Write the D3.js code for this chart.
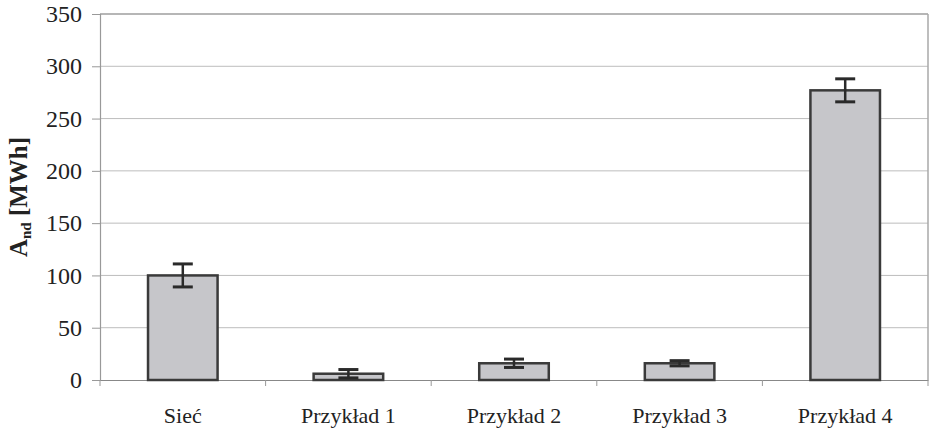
<!DOCTYPE html>
<html><head><meta charset="utf-8">
<script src="https://cdn.jsdelivr.net/npm/d3@7"></script>
<style>
html,body{margin:0;padding:0;background:#fff;}
svg{display:block;}
text{font-family:"Liberation Serif","Times New Roman",serif;fill:#222;}
</style></head>
<body>
<svg id="chart" width="934" height="432"></svg>
<script>
const categories = ["Sieć", "Przykład 1", "Przykład 2", "Przykład 3", "Przykład 4"];
const values = [100, 6, 16, 16, 277];
const errors = [11, 4, 4, 2.5, 11];
const yTicks = [0, 50, 100, 150, 200, 250, 300, 350];

const W = 934, H = 432;
const m = {left: 100, right: 6, top: 14, bottom: 52};
const svg = d3.select("#chart");
const x = d3.scaleBand().domain(categories).range([m.left, W - m.right]).padding(0);
const y = d3.scaleLinear().domain([0, 350]).range([H - m.bottom, m.top]);

// gridlines
svg.append("g").selectAll("line").data(yTicks.filter(t => t > 0)).join("line")
  .attr("x1", m.left).attr("x2", W - m.right)
  .attr("y1", d => y(d)).attr("y2", d => y(d))
  .attr("stroke", "#bdbdbd").attr("stroke-width", 1);

// plot border top/right
svg.append("line").attr("x1", m.left).attr("x2", W - m.right).attr("y1", y(350)).attr("y2", y(350))
  .attr("stroke", "#a8a8a8").attr("stroke-width", 1.5);
svg.append("line").attr("x1", W - m.right).attr("x2", W - m.right).attr("y1", y(350)).attr("y2", y(0))
  .attr("stroke", "#a8a8a8").attr("stroke-width", 1.5);

// y axis
const yAxis = svg.append("g").attr("transform", `translate(${m.left},0)`)
  .call(d3.axisLeft(y).tickValues(yTicks).tickSize(8).tickPadding(10));
yAxis.select(".domain").attr("stroke", "#999").attr("stroke-width", 1.2);
yAxis.selectAll(".tick line").attr("stroke", "#999");
yAxis.selectAll(".tick text").style("font-size", "24px").attr("fill", "#222")
  .style("font-family", '"Liberation Serif",serif');

// x axis
const xAxis = svg.append("g").attr("transform", `translate(0,${y(0)})`)
  .call(d3.axisBottom(x).tickSize(0).tickPadding(27));
xAxis.select(".domain").attr("stroke", "#888").attr("stroke-width", 1.2);
xAxis.selectAll(".tick text").style("font-size", "22px").attr("fill", "#222")
  .style("font-family", '"Liberation Serif",serif');
// boundary ticks
const bounds = categories.map(c => x(c)).concat([x(categories[categories.length-1]) + x.bandwidth()]);
svg.append("g").selectAll("line").data(bounds).join("line")
  .attr("x1", d => d).attr("x2", d => d).attr("y1", y(0)).attr("y2", y(0) + 6)
  .attr("stroke", "#999").attr("stroke-width", 1);

// bars
const bw = x.bandwidth() * 0.42;
svg.append("g").selectAll("rect").data(categories).join("rect")
  .attr("x", c => x(c) + (x.bandwidth() - bw) / 2)
  .attr("width", bw)
  .attr("y", (c, i) => y(values[i]))
  .attr("height", (c, i) => y(0) - y(values[i]))
  .attr("fill", "#c6c6ca").attr("stroke", "#3a3a3a").attr("stroke-width", 2.5);

// error bars
const cap = 20;
const eb = svg.append("g").attr("stroke", "#2a2a2a").attr("stroke-width", 2.5);
categories.forEach((c, i) => {
  const cx = x(c) + x.bandwidth() / 2;
  const lo = Math.max(0, values[i] - errors[i]), hi = values[i] + errors[i];
  eb.append("line").attr("x1", cx).attr("x2", cx).attr("y1", y(lo)).attr("y2", y(hi));
  eb.append("line").attr("x1", cx - cap/2).attr("x2", cx + cap/2).attr("y1", y(hi)).attr("y2", y(hi)).attr("stroke-width", 3);
  eb.append("line").attr("x1", cx - cap/2).attr("x2", cx + cap/2).attr("y1", y(lo)).attr("y2", y(lo)).attr("stroke-width", 3);
});

// y label
const yl = svg.append("text")
  .attr("transform", `translate(27,${(y(0) + y(350)) / 2}) rotate(-90)`)
  .attr("text-anchor", "middle")
  .style("font-size", "25px").style("font-weight", "bold");
yl.append("tspan").text("A");
yl.append("tspan").text("nd").style("font-size", "15px").attr("dy", 4);
yl.append("tspan").text(" [MWh]").attr("dy", -4);
</script>
</body></html>
